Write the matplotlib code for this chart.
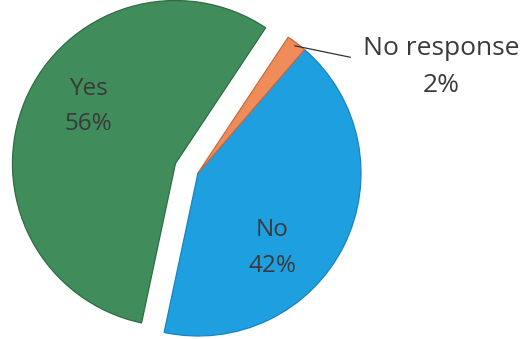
#Pie chart of yes / no responses
import matplotlib.pyplot as plt
import numpy as np

plt.rcParams['font.family'] = ['Open Sans', 'DejaVu Sans']

labels = ['Yes', 'No', 'No response']
values = [56, 42, 2]
colors = ['#408c5a', '#1e9fe0', '#f08c5a']
edges = ['#2e6e42', '#1a82c4', '#c86a40']
explode = [0.15, 0, 0]

fig = plt.figure(figsize=(5.24, 3.39), dpi=100)
ax = fig.add_axes([0, 0, 1, 1])

wedges, _ = ax.pie(values, colors=colors, explode=explode, startangle=56.4,
                   counterclock=True, radius=1.0,
                   wedgeprops=dict(linewidth=0.9))
for w, ec in zip(wedges, edges):
    w.set_edgecolor(ec)

# frame: pie centre sits at (198,173) px with radius 163 px
ax.set_aspect('auto')
ax.set_xlim(-198 / 163., (524 - 198) / 163.)
ax.set_ylim(-(339 - 173) / 163., 173 / 163.)
ax.axis('off')

txt = dict(color='#3a3a3a', ha='center', va='center')
ax.text(-0.675, 0.41, '%s\n%d%%' % (labels[0], values[0]), fontsize=17.5, linespacing=1.6, **txt)
ax.text(0.454, -0.46, '%s\n%d%%' % (labels[1], values[1]), fontsize=17.5, linespacing=1.7, **txt)
ax.text(1.495, 0.65, '%s\n%d%%' % (labels[2], values[2]), fontsize=19, linespacing=1.65, **txt)

# leader line for the small slice
w = wedges[2]
mid = np.deg2rad((w.theta1 + w.theta2) / 2.)
ax.annotate('', xy=(0.98 * np.cos(mid), 0.98 * np.sin(mid)), xytext=(0.935, 0.71),
            arrowprops=dict(arrowstyle='-', color='#333333', lw=0.9,
                            shrinkA=0, shrinkB=0))

fig.savefig('out.png', dpi=100)
